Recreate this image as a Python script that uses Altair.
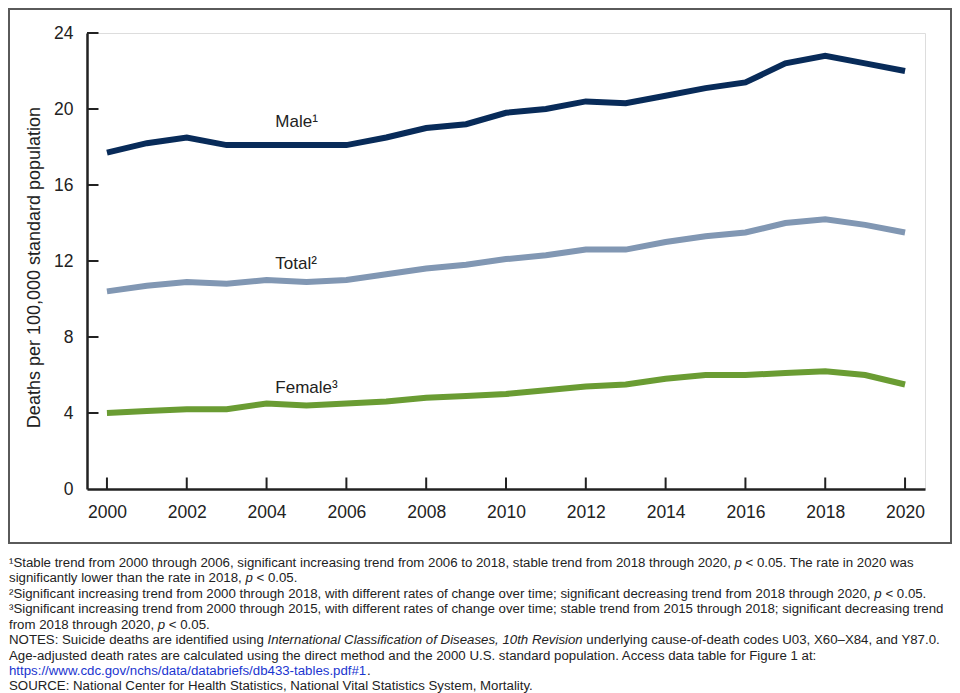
import altair as alt
import pandas as pd

# ---------------- data ----------------
years = list(range(2000, 2021))
male = [17.7, 18.2, 18.5, 18.1, 18.1, 18.1, 18.1, 18.5, 19.0, 19.2, 19.8,
        20.0, 20.4, 20.3, 20.7, 21.1, 21.4, 22.4, 22.8, 22.4, 22.0]
total = [10.4, 10.7, 10.9, 10.8, 11.0, 10.9, 11.0, 11.3, 11.6, 11.8, 12.1,
         12.3, 12.6, 12.6, 13.0, 13.3, 13.5, 14.0, 14.2, 13.9, 13.5]
female = [4.0, 4.1, 4.2, 4.2, 4.5, 4.4, 4.5, 4.6, 4.8, 4.9, 5.0,
          5.2, 5.4, 5.5, 5.8, 6.0, 6.0, 6.1, 6.2, 6.0, 5.5]
series_names = ["Male", "Total", "Female"]
series_colors = ["#082b59", "#8197b3", "#6a9c33"]

x_tick_values = list(range(2000, 2021, 2))
y_tick_values = [0, 4, 8, 12, 16, 20, 24]

label_texts = ["Male\u00b9", "Total\u00b2", "Female\u00b3"]
label_years = [2004.22, 2004.22, 2004.22]
label_values = [19.04, 11.56, 5.07]

y_title = "Deaths per 100,000 standard population"

footnote_lines = [
    [("\u00b9Stable trend from 2000 through 2006, significant increasing trend from 2006 to 2018, stable trend from 2018 through 2020, ", "n"),
     ("p", "i"), (" < 0.05. The rate in 2020 was", "n")],
    [("significantly lower than the rate in 2018, ", "n"), ("p", "i"), (" < 0.05.", "n")],
    [("\u00b2Significant increasing trend from 2000 through 2018, with different rates of change over time; significant decreasing trend from 2018 through 2020, ", "n"),
     ("p", "i"), (" < 0.05.", "n")],
    [("\u00b3Significant increasing trend from 2000 through 2015, with different rates of change over time; stable trend from 2015 through 2018; significant decreasing trend", "n")],
    [("from 2018 through 2020, ", "n"), ("p", "i"), (" < 0.05.", "n")],
    [("NOTES: Suicide deaths are identified using ", "n"),
     ("International Classification of Diseases, 10th Revision", "i"),
     (" underlying cause-of-death codes U03, X60\u2013X84, and Y87.0.", "n")],
    [("Age-adjusted death rates are calculated using the direct method and the 2000 U.S. standard population. Access data table for Figure 1 at:", "n")],
    [("https://www.cdc.gov/nchs/data/databriefs/db433-tables.pdf#1", "link"), (".", "n")],
    [("SOURCE: National Center for Health Statistics, National Vital Statistics System, Mortality.", "n")],
]

# ---------------- layout ----------------
FONT = "Liberation Sans"
TXT = "#222222"
W, H = 838, 456
PAD = {"left": 79, "top": 25, "right": 27, "bottom": 204}
FN_SIZE = 13.25
FN_X0 = -78
FN_Y0 = 533.7
FN_STEP = 15.47

# Arial / Helvetica advance widths (1/1000 em) for laying out mixed-style footnote lines
_w = {' ': 278, '!': 278, '#': 556, '%': 889, '&': 667, '(': 333, ')': 333, ',': 278,
      '-': 333, '.': 278, '/': 278, ':': 278, ';': 278, '<': 584, '=': 584, '>': 584,
      '?': 556, '@': 1015, '\u2013': 556, '\u00b9': 333, '\u00b2': 333, '\u00b3': 333}
for c in "0123456789":
    _w[c] = 556
for c, v in zip("ABCDEFGHIJKLMNOPQRSTUVWXYZ",
                [667, 667, 722, 722, 667, 611, 778, 722, 278, 500, 667, 556, 833, 722, 778,
                 667, 778, 722, 667, 611, 722, 667, 944, 667, 667, 611]):
    _w[c] = v
for c, v in zip("abcdefghijklmnopqrstuvwxyz",
                [556, 556, 500, 556, 556, 278, 556, 556, 222, 222, 500, 222, 833, 556, 556,
                 556, 556, 333, 500, 278, 556, 500, 722, 500, 500, 500]):
    _w[c] = v


def tw(s):
    return sum(_w.get(ch, 556) for ch in s) * FN_SIZE / 1000.0


rows = []
for i, line in enumerate(footnote_lines):
    cursor = 0.0
    for text, style in line:
        lead = len(text) - len(text.lstrip(" "))
        rows.append({"px": FN_X0 + cursor + tw(text[:lead]),
                     "py": FN_Y0 + i * FN_STEP,
                     "t": text.strip(" "), "style": style})
        cursor += tw(text)
fn_df = pd.DataFrame(rows)

df = pd.DataFrame({
    "year": years * 3,
    "rate": male + total + female,
    "series": ["Male"] * len(years) + ["Total"] * len(years) + ["Female"] * len(years),
})
lab_df = pd.DataFrame({"year": label_years, "rate": label_values, "t": label_texts})
xt_df = pd.DataFrame({"year": x_tick_values})
yt_df = pd.DataFrame({"v": [v for v in y_tick_values if v > 0]})

xs = alt.Scale(domain=[1999.5, 2020.5], nice=False, zero=False)
ys = alt.Scale(domain=[0, 24], nice=False, zero=True)

lines = alt.Chart(df).mark_line(strokeWidth=6, strokeJoin="miter").encode(
    x=alt.X("year:Q", scale=xs, axis=alt.Axis(
        values=x_tick_values, format="d", ticks=False, tickSize=0, grid=False, title=None,
        labelFontSize=17.5, labelPadding=14, labelColor=TXT, labelFont=FONT,
        domainColor=TXT, domainWidth=2.5)),
    y=alt.Y("rate:Q", scale=ys, axis=alt.Axis(
        values=y_tick_values, ticks=False, tickSize=0, grid=False,
        labelFontSize=17.5, labelPadding=14, labelColor=TXT, labelFont=FONT,
        domainColor=TXT, domainWidth=2.5,
        title=y_title, titleFontSize=18, titleFontWeight="normal", titleColor=TXT,
        titleFont=FONT, titleAngle=270, titleX=-48, titleY=234,
        titleBaseline="alphabetic", titleAlign="center")),
    color=alt.Color("series:N", scale=alt.Scale(domain=series_names, range=series_colors),
                    legend=None),
    order=alt.Order("year:Q"),
)

xticks = alt.Chart(xt_df).mark_rule(color=TXT, strokeWidth=2).encode(
    x=alt.X("year:Q", scale=xs, axis=None),
    y=alt.value(H), y2=alt.value(H - 11.5),
)
yticks = alt.Chart(yt_df).mark_rule(color=TXT, strokeWidth=2).encode(
    y=alt.Y("v:Q", scale=ys, axis=None),
    x=alt.value(0), x2=alt.value(11.5),
)

labels = alt.Chart(lab_df).mark_text(
    align="left", baseline="alphabetic", fontSize=17, font=FONT, color=TXT
).encode(
    x=alt.X("year:Q", scale=xs, axis=None),
    y=alt.Y("rate:Q", scale=ys, axis=None),
    text="t:N",
)

border = alt.Chart(pd.DataFrame({"a": [0]})).mark_rect(
    fill=None, stroke="#5a5a5a", strokeWidth=2
).encode(
    x=alt.value(-78), x2=alt.value(864), y=alt.value(-24), y2=alt.value(510)
)


def fn_layer(style, **kw):
    return alt.Chart(fn_df).transform_filter(alt.datum.style == style).mark_text(
        align="left", baseline="alphabetic", fontSize=FN_SIZE, font=FONT, **kw
    ).encode(
        x=alt.X("px:Q", scale=None, axis=None),
        y=alt.Y("py:Q", scale=None, axis=None),
        text="t:N",
    )


fn_n = fn_layer("n", color=TXT)
fn_i = fn_layer("i", color=TXT, fontStyle="italic")
fn_l = fn_layer("link", color="#1a35d0")

chart = alt.layer(border, lines, xticks, yticks, labels, fn_n, fn_i, fn_l).resolve_scale(
    x="independent", y="independent"
).properties(
    width=W, height=H, padding=PAD, autosize=alt.AutoSizeParams(type="none")
).configure_view(stroke=None).configure(font=FONT)

chart.save("out.html", embed_options={"renderer": "svg", "actions": False})
